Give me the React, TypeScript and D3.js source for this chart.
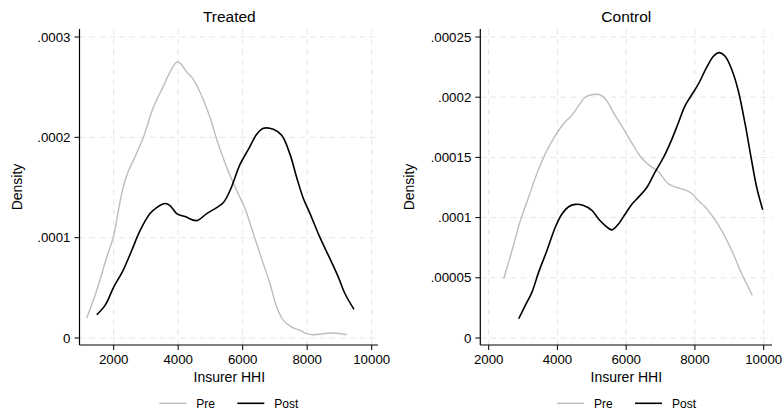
import React from "react";
import * as d3 from "d3";

const xTicks = [2000, 4000, 6000, 8000, 10000];
const treatedYTicks = [0, 0.0001, 0.0002, 0.0003];
const treatedYLabels = ["0", ".0001", ".0002", ".0003"];
const controlYTicks = [0, 0.00005, 0.0001, 0.00015, 0.0002, 0.00025];
const controlYLabels = ["0", ".00005", ".0001", ".00015", ".0002", ".00025"];
const seriesNames = ["Pre", "Post"];
const panelTitles = ["Treated", "Control"];

const treatedPre: [number, number][] = [
  [1163, 0.0000199], [1473, 0.0000474], [1783, 0.0000805], [2000, 0.000102],
  [2150, 0.000128], [2300, 0.000151], [2450, 0.000166], [2610, 0.000177],
  [2920, 0.0002], [3230, 0.00023], [3540, 0.000251], [3747, 0.000265],
  [3954, 0.000275], [4057, 0.000274], [4264, 0.000265], [4419, 0.00026],
  [4677, 0.000245], [4987, 0.00022], [5194, 0.000198], [5504, 0.00017],
  [5814, 0.000147], [6072, 0.000129], [6331, 0.000104], [6641, 0.0000739],
  [6848, 0.000054], [7054, 0.0000308], [7261, 0.0000176], [7519, 0.0000109],
  [7778, 0.0000076], [7984, 0.0000043], [8191, 0.0000033], [8450, 0.000004],
  [8708, 0.000005], [9000, 0.0000045], [9225, 0.0000033],
];

const treatedPost: [number, number][] = [
  [1473, 0.0000232], [1731, 0.0000325], [2000, 0.0000507], [2300, 0.000068],
  [2558, 0.0000872], [2817, 0.000107], [3127, 0.000124], [3333, 0.00013],
  [3592, 0.000134], [3747, 0.000132], [3954, 0.000124], [4212, 0.000121],
  [4574, 0.000117], [4884, 0.000124], [5194, 0.00013], [5401, 0.000135],
  [5607, 0.000147], [5917, 0.000173], [6176, 0.000188], [6434, 0.000203],
  [6641, 0.000209], [6951, 0.000208], [7209, 0.000202], [7468, 0.000183],
  [7674, 0.00016], [7881, 0.000139], [8088, 0.000124], [8398, 0.0001],
  [8708, 0.0000789], [8966, 0.0000607], [9173, 0.0000441], [9452, 0.0000285],
];

const controlPre: [number, number][] = [
  [2436, 0.0000492], [2678, 0.0000727], [2920, 0.0000975], [3162, 0.000117],
  [3356, 0.000133], [3646, 0.000153], [3937, 0.000168], [4179, 0.000178],
  [4421, 0.000185], [4615, 0.000193], [4809, 0.0002], [5002, 0.000202],
  [5245, 0.000202], [5438, 0.000197], [5632, 0.000187], [5874, 0.000176],
  [6165, 0.000162], [6407, 0.000151], [6649, 0.000144], [6939, 0.000138],
  [7230, 0.000128], [7472, 0.000125], [7714, 0.000123], [7908, 0.00012],
  [8102, 0.000114], [8295, 0.000109], [8489, 0.000102], [8780, 0.0000892],
  [9070, 0.0000727], [9361, 0.0000533], [9671, 0.0000354],
];

const controlPost: [number, number][] = [
  [2872, 0.000016], [3065, 0.0000271], [3259, 0.0000381], [3453, 0.0000547],
  [3695, 0.0000727], [3937, 0.000092], [4131, 0.000103], [4324, 0.000109],
  [4518, 0.000111], [4760, 0.00011], [5002, 0.000106], [5196, 0.0000989],
  [5390, 0.0000934], [5584, 0.0000898], [5777, 0.0000947], [5971, 0.000103],
  [6165, 0.000111], [6358, 0.000117], [6600, 0.000125], [6843, 0.000138],
  [7085, 0.00015], [7327, 0.000165], [7521, 0.000179], [7714, 0.000193],
  [7908, 0.000202], [8102, 0.000211], [8344, 0.000225], [8538, 0.000234],
  [8700, 0.000237], [8877, 0.000234], [9070, 0.000223], [9264, 0.000205],
  [9458, 0.000178], [9651, 0.000147], [9797, 0.000125], [9971, 0.0001065],
];

const FONT = "'Liberation Sans', Arial, Helvetica, sans-serif";
const GRID = "#e6e6e6";
const PRE_COLOR = "#bdbdbd";
const POST_COLOR = "#000000";

type PanelProps = {
  title: string;
  pre: [number, number][];
  post: [number, number][];
  yTicks: number[];
  yLabels: string[];
  yMax: number;
  axisLeft: number;
  axisRight: number;
  x2000: number;
  x10000: number;
  titleX: number;
  densityX: number;
  legendX: number;
};

function Panel(p: PanelProps) {
  const top = 29;
  const bottom = 345;
  const x = d3.scaleLinear().domain([2000, 10000]).range([p.x2000, p.x10000]);
  const y = d3.scaleLinear().domain([0, p.yMax]).range([338, 37]);
  const line = d3
    .line<[number, number]>()
    .x((d) => x(d[0]))
    .y((d) => y(d[1]))
    .curve(d3.curveCatmullRom.alpha(0.5));
  const midY = (top + bottom) / 2;
  return (
    <g>
      {p.yTicks.map((t) => (
        <line key={"gy" + t} x1={p.axisLeft} x2={p.axisRight} y1={y(t)} y2={y(t)}
          stroke={GRID} strokeWidth={1} strokeDasharray="6,4" />
      ))}
      {xTicks.map((t) => (
        <line key={"gx" + t} x1={x(t)} x2={x(t)} y1={top} y2={bottom}
          stroke={GRID} strokeWidth={1} strokeDasharray="6,4" />
      ))}
      <path d={line(p.pre) || ""} fill="none" stroke={PRE_COLOR} strokeWidth={1.4} />
      <path d={line(p.post) || ""} fill="none" stroke={POST_COLOR} strokeWidth={1.6} />
      <line x1={p.axisLeft} x2={p.axisLeft} y1={top} y2={bottom} stroke="#000" strokeWidth={1.2} />
      <line x1={p.axisLeft} x2={p.axisRight} y1={bottom} y2={bottom} stroke="#000" strokeWidth={1.2} />
      {p.yTicks.map((t, i) => (
        <g key={"yt" + t}>
          <line x1={p.axisLeft - 5} x2={p.axisLeft} y1={y(t)} y2={y(t)} stroke="#000" strokeWidth={1} />
          <text x={p.axisLeft - 9} y={y(t)} dy="0.35em" textAnchor="end" fontSize={13.3} fontFamily={FONT} fill="#000">
            {p.yLabels[i]}
          </text>
        </g>
      ))}
      {xTicks.map((t) => (
        <g key={"xt" + t}>
          <line x1={x(t)} x2={x(t)} y1={bottom} y2={bottom + 5} stroke="#000" strokeWidth={1} />
          <text x={x(t)} y={363.5} textAnchor="middle" fontSize={13.3} fontFamily={FONT} fill="#000">
            {t}
          </text>
        </g>
      ))}
      <text x={p.titleX} y={21.7} textAnchor="middle" fontSize={15.5} fontFamily={FONT} fill="#000">
        {p.title}
      </text>
      <text x={p.titleX} y={381.7} textAnchor="middle" fontSize={14} fontFamily={FONT} fill="#000">
        Insurer HHI
      </text>
      <text transform={`translate(${p.densityX},${midY}) rotate(-90)`} textAnchor="middle"
        fontSize={14} fontFamily={FONT} fill="#000">
        Density
      </text>
      <g transform={`translate(${p.legendX},0)`}>
        <line x1={0} x2={27} y1={403.3} y2={403.3} stroke={PRE_COLOR} strokeWidth={1.4} />
        <text x={37} y={407.5} fontSize={12} fontFamily={FONT} fill="#000">{seriesNames[0]}</text>
        <line x1={78} x2={105} y1={403.3} y2={403.3} stroke={POST_COLOR} strokeWidth={1.6} />
        <text x={115} y={407.5} fontSize={12} fontFamily={FONT} fill="#000">{seriesNames[1]}</text>
      </g>
    </g>
  );
}

export default function App() {
  return (
    <svg width={784} height={412} style={{ position: "absolute", left: 0, top: 0, background: "#fff" }}>
      <rect x={0} y={0} width={784} height={412} fill="#fff" />
      <Panel title={panelTitles[0]} pre={treatedPre} post={treatedPost}
        yTicks={treatedYTicks} yLabels={treatedYLabels} yMax={0.0003}
        axisLeft={79.5} axisRight={378} x2000={113.7} x10000={371.7}
        titleX={229.3} densityX={22} legendX={159.3} />
      <Panel title={panelTitles[1]} pre={controlPre} post={controlPost}
        yTicks={controlYTicks} yLabels={controlYLabels} yMax={0.00025}
        axisLeft={480.3} axisRight={772} x2000={488.7} x10000={763.7}
        titleX={626.3} densityX={414} legendX={557} />
    </svg>
  );
}
